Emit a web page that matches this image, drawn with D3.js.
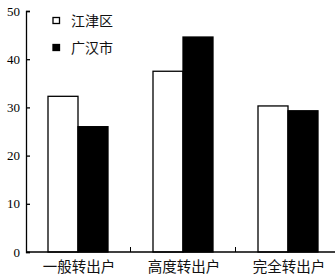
<!DOCTYPE html>
<html>
<head>
<meta charset="utf-8">
<script src="https://cdn.jsdelivr.net/npm/d3@7"></script>
<style>
  body { margin: 0; background: #fff; }
  svg { display: block; }
</style>
</head>
<body>
<div class="barcanvas"></div>
<script>
var categories = ["一般转出户", "高度转出户", "完全转出户"];
var seriesNames = ["江津区", "广汉市"];
var jiangjin = [32.3, 37.5, 30.3];
var guanghan = [26.0, 44.6, 29.3];
var yTicks = [0, 10, 20, 30, 40, 50];

var width = 335, height = 279;
var margin = {left: 26, bottom: 252, top: 11};
var barW = 30;

var canvas = d3.select(".barcanvas")
  .append("svg")
  .attr("width", width)
  .attr("height", height);

var x = d3.scaleBand()
  .domain(categories)
  .range([25.5, 25.5 + 3 * 105])
  .padding(0);

var y = d3.scaleLinear()
  .domain([0, 50])
  .range([margin.bottom, margin.top]);

var color = d3.scaleOrdinal()
  .domain(seriesNames)
  .range(["#fff", "#000"]);

var rows = categories.map(function(c, i) {
  return {cat: c, vals: [jiangjin[i], guanghan[i]]};
});

// bars
var groups = canvas.selectAll(".grp")
  .data(rows)
  .enter().append("g")
  .attr("class", "grp");

groups.selectAll("rect")
  .data(function(d) {
    return d.vals.map(function(v, j) { return {cat: d.cat, v: v, s: seriesNames[j], j: j}; });
  })
  .enter().append("rect")
  .attr("x", function(d) { return x(d.cat) + x.bandwidth() / 2 - barW + d.j * barW; })
  .attr("y", function(d) { return y(d.v); })
  .attr("width", barW)
  .attr("height", function(d) { return y(0) - y(d.v); })
  .attr("fill", function(d) { return color(d.s); })
  .attr("stroke", "#000")
  .attr("stroke-width", 1.3);

// y axis
var yAxis = d3.axisLeft(y)
  .tickValues(yTicks)
  .tickSizeInner(-4)
  .tickSizeOuter(-4)
  .tickPadding(6);

var ya = canvas.append("g")
  .attr("transform", "translate(" + margin.left + ",0)")
  .call(yAxis);
ya.selectAll("path, line").attr("stroke", "#000").attr("stroke-width", 1.3);
ya.selectAll("text")
  .attr("font-family", "Liberation Serif, serif")
  .attr("font-size", "13px")
  .attr("fill", "#000");

// x axis
canvas.append("line")
  .attr("x1", margin.left).attr("x2", width)
  .attr("y1", margin.bottom).attr("y2", margin.bottom)
  .attr("stroke", "#000")
  .attr("stroke-width", 1.3);

canvas.selectAll(".xtick")
  .data(categories.slice(1))
  .enter().append("line")
  .attr("class", "xtick")
  .attr("x1", function(d) { return x(d); })
  .attr("x2", function(d) { return x(d); })
  .attr("y1", margin.bottom)
  .attr("y2", margin.bottom - 5)
  .attr("stroke", "#000")
  .attr("stroke-width", 1);

canvas.selectAll(".xlab")
  .data(categories)
  .enter().append("text")
  .attr("class", "xlab")
  .attr("x", function(d) { return x(d) + x.bandwidth() / 2 + 1; })
  .attr("y", 272)
  .attr("text-anchor", "middle")
  .attr("font-family", "Noto Sans CJK SC, sans-serif")
  .attr("font-size", "14.5px")
  .attr("fill", "#111")
  .text(function(d) { return d; });

// legend
var legend = canvas.selectAll(".leg")
  .data(seriesNames)
  .enter().append("g")
  .attr("class", "leg")
  .attr("transform", function(d, i) { return "translate(53," + (17.5 + i * 27) + ")"; });

legend.append("rect")
  .attr("width", 6.5)
  .attr("height", 6)
  .attr("fill", function(d) { return color(d); })
  .attr("stroke", "#000")
  .attr("stroke-width", 1.3);

legend.append("text")
  .attr("x", 18)
  .attr("y", 8.5)
  .attr("font-family", "Noto Sans CJK SC, sans-serif")
  .attr("font-size", "14px")
  .attr("fill", "#111")
  .text(function(d) { return d; });
</script>
</body>
</html>
